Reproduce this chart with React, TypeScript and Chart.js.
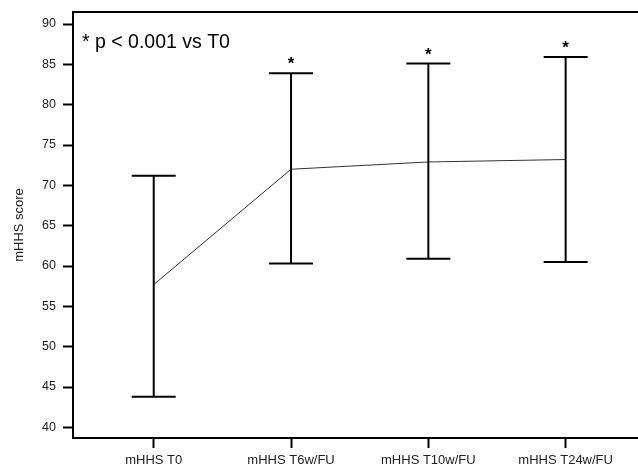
import React, { useEffect, useRef } from "react";
import { Chart, registerables } from "chart.js";

Chart.register(...registerables);

const categories = ["mHHS T0", "mHHS T6w/FU", "mHHS T10w/FU", "mHHS T24w/FU"];
const meanValues = [57.7, 72.0, 72.9, 73.2];
const upperValues = [71.2, 83.9, 85.1, 85.9];
const lowerValues = [43.8, 60.3, 60.9, 60.5];
const significant = [false, true, true, true];
const yTicks = [40, 45, 50, 55, 60, 65, 70, 75, 80, 85, 90];
const yTitle = "mHHS score";
const noteText = "* p < 0.001 vs T0";

const FONT = "'Liberation Sans', Arial, sans-serif";

const extrasPlugin = {
  id: "extras",
  afterDatasetsDraw(chart: any) {
    const { ctx, chartArea, scales } = chart;
    const xs = scales.x;
    const ys = scales.y;
    ctx.save();
    // top frame line
    ctx.strokeStyle = "#000";
    ctx.lineWidth = 2;
    ctx.beginPath();
    ctx.moveTo(chartArea.left - 1, chartArea.top);
    ctx.lineTo(chartArea.right, chartArea.top);
    ctx.stroke();
    // error bars
    const cap = 22;
    categories.forEach((_, i) => {
      const x = xs.getPixelForValue(i + 1);
      const yU = ys.getPixelForValue(upperValues[i]);
      const yL = ys.getPixelForValue(lowerValues[i]);
      ctx.beginPath();
      ctx.moveTo(x, yU);
      ctx.lineTo(x, yL);
      ctx.moveTo(x - cap, yU);
      ctx.lineTo(x + cap, yU);
      ctx.moveTo(x - cap, yL);
      ctx.lineTo(x + cap, yL);
      ctx.stroke();
      if (significant[i]) {
        ctx.fillStyle = "#000";
        ctx.font = `bold 17px ${FONT}`;
        ctx.textAlign = "center";
        ctx.textBaseline = "alphabetic";
        ctx.fillText("*", x, yU - 4);
      }
    });
    // note
    ctx.fillStyle = "#000";
    ctx.font = `19.5px ${FONT}`;
    ctx.textAlign = "left";
    ctx.textBaseline = "middle";
    ctx.fillText(noteText, chartArea.left + 9, chartArea.top + 31);
    ctx.restore();
  },
};

export default function App() {
  const ref = useRef<HTMLCanvasElement>(null);
  useEffect(() => {
    if (!ref.current) return;
    const chart = new Chart(ref.current, {
      type: "line",
      data: {
        datasets: [
          {
            data: meanValues.map((v, i) => ({ x: i + 1, y: v })),
            borderColor: "#333",
            borderWidth: 1,
            pointRadius: 0,
            fill: false,
            tension: 0,
          },
        ],
      },
      options: {
        animation: false,
        responsive: false,
        layout: { padding: { top: 12, right: 0, left: 0, bottom: 0 } },
        plugins: { legend: { display: false }, tooltip: { enabled: false } },
        scales: {
          x: {
            type: "linear",
            min: 0.412,
            max: 4.527,
            afterBuildTicks: (scale: any) => {
              scale.ticks = categories.map((_, i) => ({ value: i + 1 }));
            },
            afterFit: (scale: any) => {
              scale.height = 30;
              scale.paddingLeft = 0;
              scale.paddingRight = 0;
            },
            ticks: {
              autoSkip: false,
              maxRotation: 0,
              padding: 5,
              color: "#222",
              font: { family: FONT, size: 13 },
              callback: (v: any) => categories[Math.round(Number(v)) - 1] ?? "",
            },
            grid: {
              drawOnChartArea: false,
              drawTicks: true,
              tickLength: 10,
              tickWidth: 2,
              tickColor: "#000",
            },
            border: { display: true, color: "#000", width: 2 },
          },
          y: {
            type: "linear",
            min: 38.68,
            max: 91.49,
            afterBuildTicks: (scale: any) => {
              scale.ticks = yTicks.map((v) => ({ value: v }));
            },
            afterFit: (scale: any) => {
              scale.width = 73;
              scale.paddingTop = 0;
              scale.paddingBottom = 0;
            },
            ticks: {
              padding: 7,
              color: "#222",
              font: { family: FONT, size: 12.5 },
            },
            grid: {
              drawOnChartArea: false,
              drawTicks: true,
              tickLength: 10,
              tickWidth: 2,
              tickColor: "#000",
            },
            border: { display: true, color: "#000", width: 2 },
            title: {
              display: true,
              text: yTitle,
              color: "#222",
              font: { family: FONT, size: 13 },
              padding: { top: 12, bottom: 0 },
            },
          },
        },
      },
      plugins: [extrasPlugin],
    });
    return () => chart.destroy();
  }, []);
  return (
    <div style={{ position: "fixed", left: 0, top: 0, width: 638, height: 468 }}>
      <canvas ref={ref} width={638} height={468} />
    </div>
  );
}
